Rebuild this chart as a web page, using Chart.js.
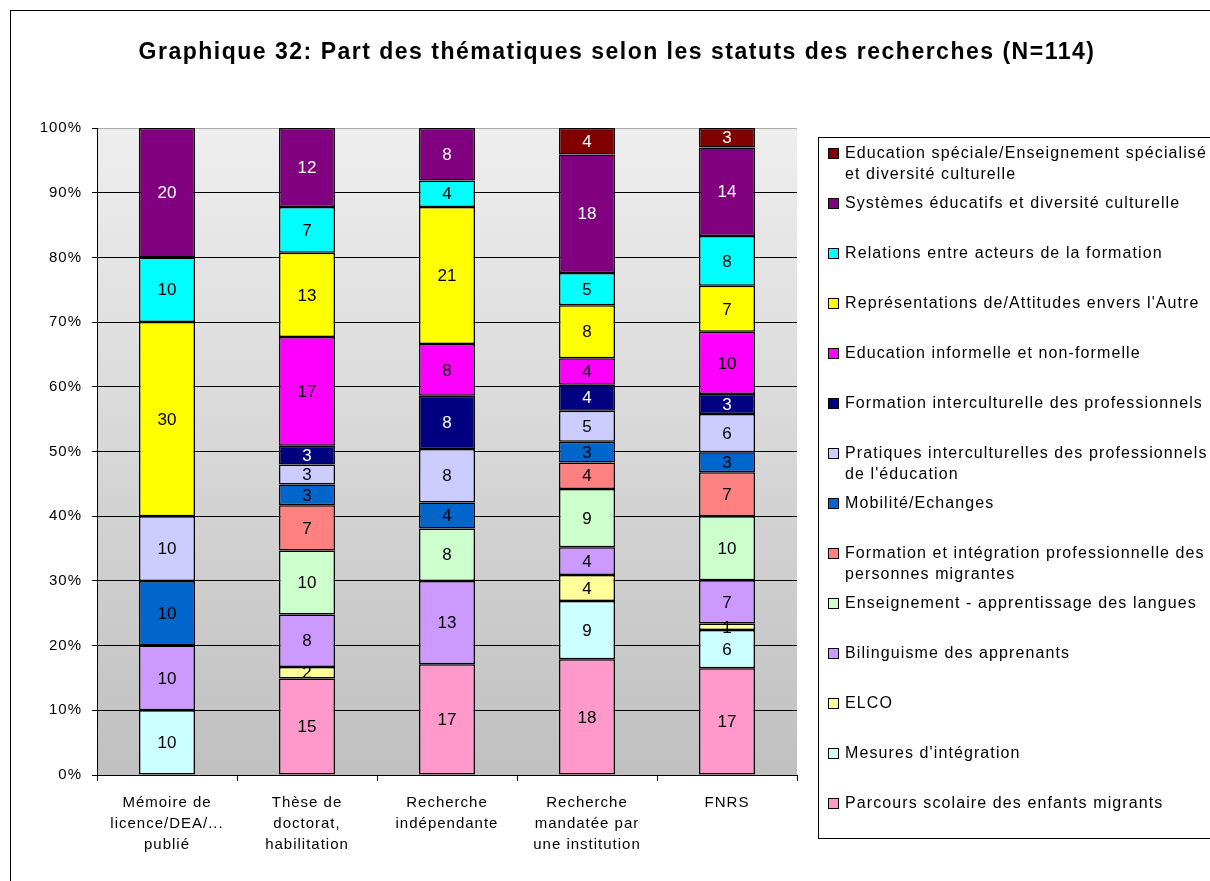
<!DOCTYPE html>
<html lang="fr">
<head>
<meta charset="utf-8">
<title>Graphique 32</title>
<script src="https://cdn.jsdelivr.net/npm/chart.js@4.4.0/dist/chart.umd.min.js"></script>
<style>
  body { margin: 0; background: #fff; }
  #wrap { width: 1210px; height: 881px; }
</style>
</head>
<body>
<div id="wrap"><canvas id="chart" width="1210" height="881"></canvas></div>
<script>
// Statuts des recherches (axe X)
var categories = [
  ['Mémoire de', 'licence/DEA/...', 'publié'],
  ['Thèse de', 'doctorat,', 'habilitation'],
  ['Recherche', 'indépendante'],
  ['Recherche', 'mandatée par', 'une institution'],
  'FNRS'
];

// Parts en % par thématique, de bas en haut de la pile
var parcours        = [0, 14.9, 17.1, 17.9, 16.5];
var mesures         = [10, 0, 0, 9.0, 5.9];
var elco            = [0, 1.8, 0, 4.0, 1.0];
var bilinguisme     = [10, 8.1, 12.9, 4.3, 6.7];
var enseignement    = [0, 9.9, 8.1, 9.0, 9.9];
var formIntegration = [0, 7.0, 0, 4.1, 6.8];
var mobilite        = [10, 3.2, 4.0, 3.2, 3.1];
var pratiques       = [10, 3.1, 8.3, 4.8, 5.9];
var formInterc      = [0, 2.9, 8.2, 4.0, 3.1];
var educInformelle  = [0, 16.8, 8.0, 4.1, 9.6];
var representations = [30, 13.0, 21.2, 8.2, 7.1];
var relations       = [10, 7.1, 4.1, 5.0, 7.7];
var systemes        = [20, 12.2, 8.1, 18.3, 13.7];
var educSpeciale    = [0, 0, 0, 4.1, 3.0];

var yTicks = [0, 10, 20, 30, 40, 50, 60, 70, 80, 90, 100];

var seriesValues = [parcours, mesures, elco, bilinguisme, enseignement, formIntegration,
  mobilite, pratiques, formInterc, educInformelle, representations, relations, systemes, educSpeciale];

var seriesLabels = [
  ['Parcours scolaire des enfants migrants'],
  ["Mesures d'intégration"],
  ['ELCO'],
  ['Bilinguisme des apprenants'],
  ['Enseignement - apprentissage des langues'],
  ['Formation et intégration professionnelle des', 'personnes migrantes'],
  ['Mobilité/Echanges'],
  ['Pratiques interculturelles des professionnels', "de l'éducation"],
  ['Formation interculturelle des professionnels'],
  ['Education informelle et non-formelle'],
  ["Représentations de/Attitudes envers l'Autre"],
  ['Relations entre acteurs de la formation'],
  ['Systèmes éducatifs et diversité culturelle'],
  ['Education spéciale/Enseignement spécialisé', 'et diversité culturelle']
];

var seriesColors = ['#FF99CC', '#CCFFFF', '#FFFF99', '#CC99FF', '#CCFFCC', '#FF8080',
  '#0066CC', '#CCCCFF', '#000080', '#FF00FF', '#FFFF00', '#00FFFF', '#800080', '#800000'];

var darkSeries = ['#000080', '#800080', '#800000'];

var FONT = 'Arial, "Liberation Sans", sans-serif';

var datasets = seriesValues.map(function (vals, i) {
  return {
    label: seriesLabels[i].join(' '),
    data: vals.map(function (v) { return v ? v : null; }),
    backgroundColor: seriesColors[i],
    borderColor: '#000',
    borderWidth: 1.5,
    borderSkipped: false,
    barPercentage: 0.4,
    categoryPercentage: 1
  };
});

// fond, titre, cadre, étiquettes et légende
var decorPlugin = {
  id: 'decor',
  beforeUpdate: function (chart) {
    // l'original a un texte un peu espacé
    chart.ctx.letterSpacing = '1px';
  },
  beforeDraw: function (chart) {
    var ctx = chart.ctx, a = chart.chartArea;
    ctx.letterSpacing = '1px';
    ctx.save();
    ctx.fillStyle = '#fff';
    ctx.fillRect(0, 0, chart.width, chart.height);
    var g = ctx.createLinearGradient(0, a.top, 0, a.bottom);
    g.addColorStop(0, '#EEEEEE');
    g.addColorStop(1, '#C0C0C0');
    ctx.fillStyle = g;
    ctx.fillRect(a.left, a.top, a.right - a.left, a.bottom - a.top);
    ctx.strokeStyle = '#000';
    ctx.lineWidth = 1;
    ctx.strokeRect(10.5, 10.5, 1400, 1000);
    ctx.fillStyle = '#000';
    ctx.font = 'bold 23px ' + FONT;
    ctx.letterSpacing = '1.5px';
    ctx.textAlign = 'center';
    ctx.textBaseline = 'middle';
    ctx.fillText('Graphique 32: Part des thématiques selon les statuts des recherches (N=114)', 617, 53);
    ctx.restore();
  },
  afterDatasetsDraw: function (chart) {
    var ctx = chart.ctx;
    ctx.save();
    ctx.font = '17px ' + FONT;
    ctx.letterSpacing = '0px';
    ctx.textAlign = 'center';
    ctx.textBaseline = 'middle';
    seriesValues.forEach(function (vals, i) {
      var meta = chart.getDatasetMeta(i);
      meta.data.forEach(function (bar, j) {
        if (!vals[j]) return;
        ctx.fillStyle = darkSeries.indexOf(seriesColors[i]) >= 0 ? '#fff' : '#000';
        ctx.fillText(String(Math.round(vals[j])), bar.x, (bar.y + bar.base) / 2 + 1);
      });
    });
    ctx.restore();
  },
  afterDraw: function (chart) {
    var ctx = chart.ctx;
    ctx.save();
    ctx.strokeStyle = '#000';
    ctx.lineWidth = 1;
    ctx.strokeRect(818.5, 137.5, 600, 701);
    ctx.font = '16px ' + FONT;
    ctx.letterSpacing = '1.1px';
    ctx.textAlign = 'left';
    ctx.textBaseline = 'middle';
    for (var k = 0; k < seriesLabels.length; k++) {
      var i = seriesLabels.length - 1 - k;
      var y = 154 + 50 * k;
      ctx.fillStyle = seriesColors[i];
      ctx.fillRect(828, y - 5, 10, 10);
      ctx.strokeRect(828.5, y - 5.5, 10, 10);
      ctx.fillStyle = '#000';
      seriesLabels[i].forEach(function (line, n) {
        ctx.fillText(line, 845, y + 21 * n);
      });
    }
    ctx.restore();
  }
};

var ctx = document.getElementById('chart').getContext('2d');
var chart = new Chart(ctx, {
  type: 'bar',
  data: { labels: categories, datasets: datasets },
  options: {
    responsive: false,
    animation: false,
    layout: { padding: { left: 20, right: 413, top: 128, bottom: 20 } },
    plugins: {
      legend: { display: false },
      tooltip: { enabled: false },
      title: { display: false }
    },
    scales: {
      x: {
        stacked: true,
        afterFit: function (s) { s.height = 86; },
        grid: { display: true, drawOnChartArea: false, offset: true, tickLength: 6, color: '#000' },
        border: { display: true, color: '#000' },
        ticks: { color: '#000', maxRotation: 0, padding: 11, font: { family: FONT, size: 15, lineHeight: 1.4 } }
      },
      y: {
        stacked: true,
        min: 0,
        max: 100,
        afterFit: function (s) { s.width = 77; },
        afterBuildTicks: function (s) { s.ticks = yTicks.map(function (v) { return { value: v }; }); },
        grid: {
          color: function (c) { return c.tick && c.tick.value === 100 ? '#AAAAAA' : '#000'; },
          tickColor: '#000',
          tickLength: 5
        },
        border: { display: true, color: '#000' },
        ticks: {
          color: '#000',
          padding: 10,
          font: { family: FONT, size: 15 },
          callback: function (v) { return v + '%'; }
        }
      }
    }
  },
  plugins: [decorPlugin]
});
</script>
</body>
</html>
